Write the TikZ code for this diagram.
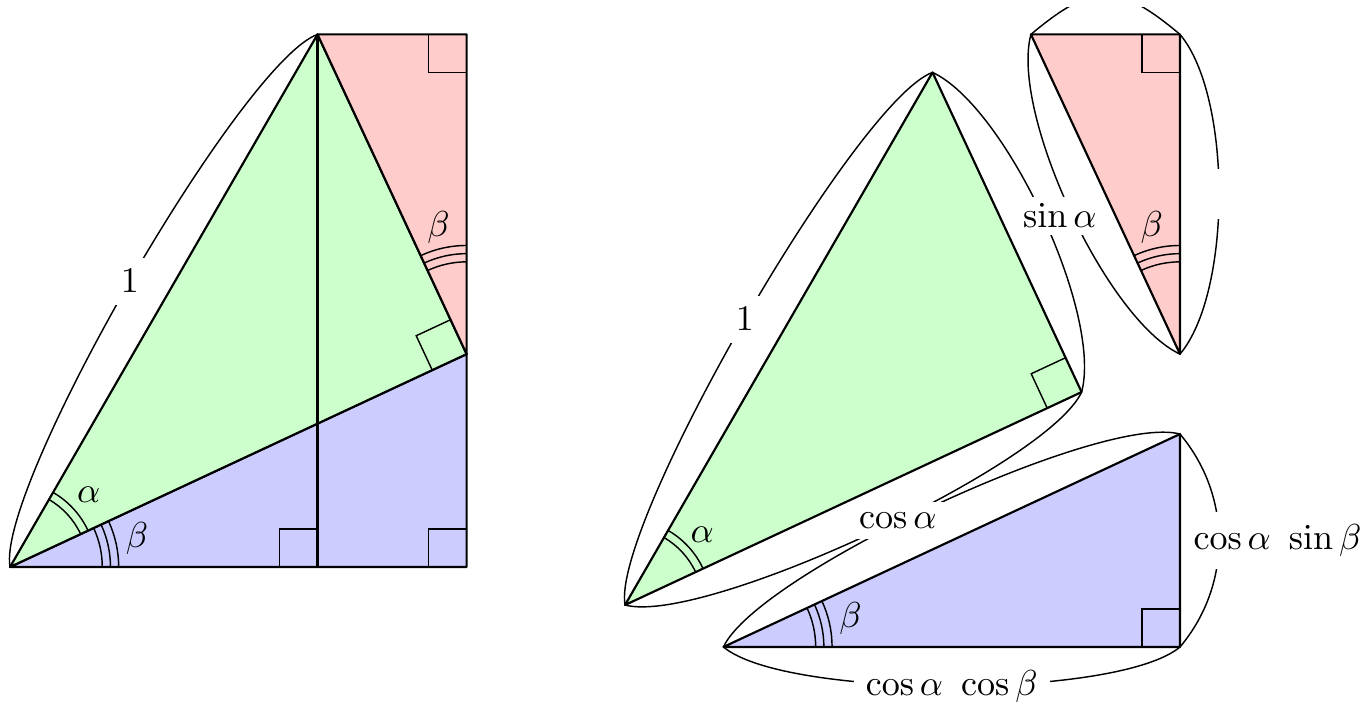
\documentclass[tikz,border=0pt]{standalone}
\usepackage{amsmath, amssymb}
\usepackage{tikz}
\usetikzlibrary{calc,angles}

\begin{document}
\begin{tikzpicture}[x=6cm,y=6cm]

\tikzset{
  greenpart/.style={fill=green!20},
  redpart/.style={fill=red!20},
  bluepart/.style={fill=blue!20},
  edge/.style={draw=black, semithick, line join=round},
  rightmark/.style={draw=black, thin},
  anglemark/.style={draw=black, thin},
  bow/.style={draw=black, thin, distance=0.79cm},
  lbl/.style={fill=white},
  gap/.style={fill=white, inner sep=0pt}
}

\newcommand{\rightangle}[3]{
  \draw[rightmark] ($(#1)!0.37cm!(#2)$) -- ($(#1)!0.37cm!(#2)+(#1)!0.37cm!(#3)-(#1)$) -- ($(#1)!0.37cm!(#3)$);
}

\useasboundingbox (-0.0163,-0.2292) rectangle (2.1951,0.9220);

% Points of the rectangle (hypotenuse 1, alpha=35, beta=25)
\coordinate (A) at (0,0);
\coordinate (T) at (60:1);
\coordinate (P) at (25:0.81915);
\coordinate (B) at (0.74240,0);
\coordinate (R) at (0.74240,0.86603);
\coordinate (F) at (0.5,0);

% Pieces on the right
\foreach \n in {A,T,P} \coordinate (g\n) at ($(\n)+(1,-0.0618)$);
\foreach \n in {T,R,P} \coordinate (r\n) at ($(\n)+(1.16,0)$);
\foreach \n in {A,B,P} \coordinate (b\n) at ($(\n)+(1.16,-0.130)$);

% Left figure
\filldraw[bluepart, edge] (A) -- (B) -- (P) -- cycle;
\filldraw[greenpart, edge] (A) -- (P) -- (T) -- cycle;
\filldraw[redpart, edge] (T) -- (R) -- (P) -- cycle;
\draw[edge] (T) -- (F);

\rightangle{F}{A}{T}
\rightangle{B}{A}{R}
\rightangle{R}{T}{B}
\rightangle{P}{A}{T}

\foreach \r in {0.76,0.84} \pic[anglemark, angle radius=\r cm] {angle=P--A--T};
\foreach \r in {0.9,0.98,1.06} \pic[anglemark, angle radius=\r cm] {angle=B--A--P};
\foreach \r in {0.9,0.98,1.06} \pic[anglemark, angle radius=\r cm] {angle=R--P--T};

\node (alpha1) at ($(A)+(42.5:1.04cm)$) {$\alpha$};
\node (beta1) at ($(A)+(12.5:1.27cm)$) {$\beta$};
\node (beta2) at ($(P)+(102.5:1.27cm)$) {$\beta$};

\draw[bow] (A) to[bend left=40] node[lbl] {$1$} (T);

% Right figure
\filldraw[greenpart, edge] (gA) -- (gP) -- (gT) -- cycle;
\filldraw[redpart, edge] (rT) -- (rR) -- (rP) -- cycle;
\filldraw[bluepart, edge] (bA) -- (bB) -- (bP) -- cycle;

\rightangle{gP}{gA}{gT}
\rightangle{rR}{rT}{rP}
\rightangle{bB}{bA}{bP}

\foreach \r in {0.76,0.84} \pic[anglemark, angle radius=\r cm] {angle=gP--gA--gT};
\foreach \r in {0.9,0.98,1.06} \pic[anglemark, angle radius=\r cm] {angle=bB--bA--bP};
\foreach \r in {0.9,0.98,1.06} \pic[anglemark, angle radius=\r cm] {angle=rR--rP--rT};

\node (alpha2) at ($(gA)+(42.5:1.02cm)$) {$\alpha$};
\node (beta3) at ($(bA)+(12.5:1.27cm)$) {$\beta$};
\node (beta4) at ($(rP)+(102.5:1.27cm)$) {$\beta$};

% Sides
\draw[bow] (rT) to[bend right=40] (rP);
\draw[bow] (rT) to[bend left=40] node[gap, minimum width=1cm, minimum height=0.22cm] {} (rR);
\draw[bow] (rR) to[bend left=40] node[gap, minimum width=0.3cm, minimum height=0.49cm] {} (rP);
\draw[bow] (bA) to[bend left=40] (bP);
\draw[bow] (bA) to[bend right=40] node[lbl] {$\cos\alpha\ \cos\beta$} (bB);
\draw[bow] (bB) to[bend right=40] node[lbl, inner xsep=1.5pt, xshift=0.57cm] {$\cos\alpha\ \sin\beta$} (bP);
\draw[bow] (gA) to[bend left=40] node[lbl] {$1$} (gT);
\draw[bow] (gT) to[bend left=40] node[lbl, inner sep=2pt, xshift=0.17cm] {$\sin\alpha$} (gP);
\draw[bow] (gA) to[bend right=40] node[lbl, inner sep=3pt, pos=0.547] {$\cos\alpha$} (gP);

\end{tikzpicture}
\end{document}
